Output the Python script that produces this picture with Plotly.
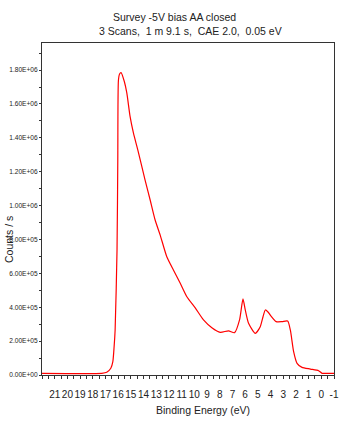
import plotly.graph_objects as go

binding_energy = [22.0, 17.29, 16.90, 16.58, 16.42, 16.32, 16.24, 16.09, 16.03, 15.98, 15.89, 15.77,
                  15.51, 15.32, 15.06, 14.80, 14.45, 13.88, 13.48, 13.09, 12.69, 12.17, 11.65, 11.12,
                  10.59, 9.93, 9.28, 8.62, 7.96, 7.31, 6.83, 6.44, 6.17, 5.99, 5.73, 5.20, 4.81, 4.59,
                  4.41, 4.20, 4.02, 3.55, 3.10, 2.65, 2.44, 2.18, 1.91, 1.52, 0.86, 0.21, -0.06, -0.32, -1.0]
counts = [1.0e4, 1.0e4, 1.6e4, 4.0e4, 7.9e4, 1.67e5, 2.66e5, 7.4e5, 1.27e6, 1.74e6, 1.777e6, 1.785e6,
          1.731e6, 1.665e6, 1.525e6, 1.429e6, 1.328e6, 1.151e6, 1.033e6, 9.15e5, 8.26e5, 6.98e5, 6.20e5, 5.43e5,
          4.62e5, 3.96e5, 3.25e5, 2.79e5, 2.52e5, 2.61e5, 2.50e5, 3.25e5, 4.49e5, 3.84e5, 3.05e5, 2.46e5, 2.85e5, 3.44e5,
          3.84e5, 3.72e5, 3.54e5, 3.15e5, 3.15e5, 3.19e5, 2.66e5, 1.38e5, 6.9e4, 4.5e4, 3.5e4, 2.5e4, 1.0e4, 1.0e4, 1.0e4]

x_tickvals = list(range(21, -2, -1))
x_ticktext = [str(v) for v in x_tickvals]
y_tickvals = [0, 2e5, 4e5, 6e5, 8e5, 1.0e6, 1.2e6, 1.4e6, 1.6e6, 1.8e6]
y_ticktext = ["0.00E+00", "2.00E+05", "4.00E+05", "6.00E+05", "8.00E+05",
              "1.00E+06", "1.20E+06", "1.40E+06", "1.60E+06", "1.80E+06"]

title_line1 = "Survey -5V bias AA closed"
title_line2 = "3 Scans,  1 m 9.1 s,  CAE 2.0,  0.05 eV"

fig = go.Figure()
fig.add_trace(go.Scatter(x=binding_energy, y=counts, mode="lines",
                         line=dict(color="#ff0000", width=1.2, shape="spline", smoothing=0.6),
                         hoverinfo="skip"))

font_main = "Liberation Sans, Arial, sans-serif"
fig.update_layout(
    width=344, height=430,
    margin=dict(l=42, r=10, t=43, b=55, autoexpand=False),
    paper_bgcolor="white", plot_bgcolor="white",
    showlegend=False,
    font=dict(family=font_main, size=10, color="#222"),
    xaxis=dict(range=[22, -1], tickvals=x_tickvals, ticktext=x_ticktext, tickangle=0,
               automargin=False, ticklabelstandoff=7,
               ticks="outside", ticklen=3, tickwidth=1, tickcolor="#333",
               minor=dict(dtick=0.5, tick0=0, ticks="outside", ticklen=3, tickcolor="#333"),
               showgrid=False, zeroline=False, showline=True, linecolor="#333", linewidth=1, mirror=True,
               tickfont=dict(size=10, family=font_main, color="#222")),
    yaxis=dict(range=[0, 1.96e6], tickvals=y_tickvals, ticktext=y_ticktext,
               automargin=False,
               ticks="outside", ticklen=2, tickwidth=1, tickcolor="#333",
               minor=dict(dtick=1e5, tick0=0, ticks="outside", ticklen=2, tickcolor="#333"),
               showgrid=False, zeroline=False, showline=True, linecolor="#333", linewidth=1, mirror=True,
               tickfont=dict(size=6.6, family=font_main, color="#222")),
)

fig.add_annotation(text=title_line1, xref="paper", yref="paper", x=(174 - 42) / 292, y=1 + (43 - 17) / 332,
                   showarrow=False, xanchor="center", yanchor="middle", font=dict(size=10.5, color="#222"))
fig.add_annotation(text=title_line2, xref="paper", yref="paper", x=(190 - 42) / 292, y=1 + (43 - 31) / 332,
                   showarrow=False, xanchor="center", yanchor="middle", font=dict(size=10.5, color="#222"))
fig.add_annotation(text="Binding Energy (eV)", xref="paper", yref="paper", x=(203 - 42) / 292, y=-(410 - 375) / 332,
                   showarrow=False, xanchor="center", yanchor="middle", font=dict(size=10.5, color="#222"))
fig.add_annotation(text="Counts / s", xref="paper", yref="paper", x=-(42 - 1) / 292, y=(375 - 240) / 332,
                   showarrow=False, xanchor="left", yanchor="middle", textangle=-90, font=dict(size=10.5, color="#222"))

fig.write_html("out.html")
